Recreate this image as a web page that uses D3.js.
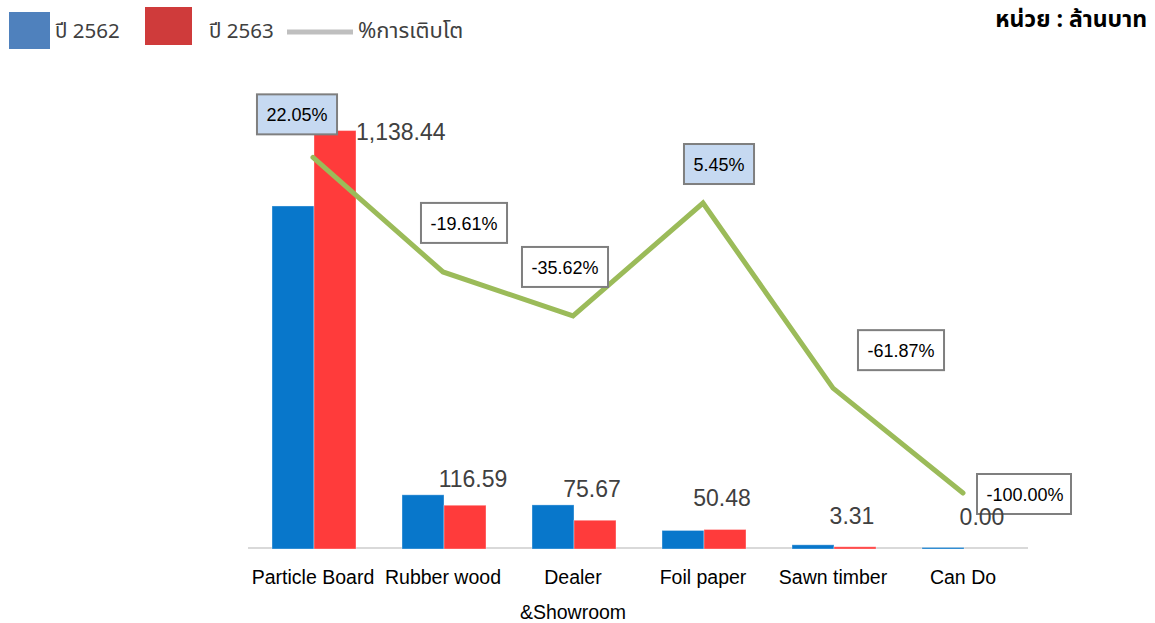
<!DOCTYPE html>
<html>
<head>
<meta charset="utf-8">
<script src="https://cdn.jsdelivr.net/npm/d3@7"></script>
<style>
  html, body { margin: 0; padding: 0; background: #ffffff; }
  svg { display: block; }
</style>
</head>
<body>
<svg id="chart" width="1155" height="623"></svg>
<script>
// Sales by product group (million baht), two years plus growth rate
const categories = ["Particle Board", "Rubber wood", "Dealer\n&Showroom", "Foil paper", "Sawn timber", "Can Do"];
const seriesNames = ["ปี 2562", "ปี 2563"];
const sales2562 = [932.76, 145.03, 117.54, 47.87, 8.68, 1.5];
const sales2563 = [1138.44, 116.59, 75.67, 50.48, 3.31, 0.00];
const growthPct = [22.05, -19.61, -35.62, 5.45, -61.87, -100.00];
const growthLabelName = "%การเติบโต";
const unitLabel = "หน่วย : ล้านบาท";

// label placement tweaks (dx, dy in px) relative to their anchor points
const growthLabelNudge = [[-16, -43], [21, -49], [-8, -49], [16, -39], [68, -38], [61, 1]];
const highlightedGrowth = [true, false, false, true, false, false];

const plot = { left: 248, right: 1028, top: 108, bottom: 548 };
const latin = "'Liberation Sans', Arial, sans-serif";
const thai = "'Noto Sans Thai', 'Loma', 'Tahoma', 'DejaVu Sans', 'Noto Sans', sans-serif";

const barColors = ["#0877CB", "#FF3B3B"];
const legendColors = ["#4F81BD", "#CF3B3B"];
const lineColor = "#9BBB59";

const svg = d3.select("#chart");

const x0 = d3.scaleBand().domain(categories)
  .range([plot.left + 1, plot.right + 1]).paddingInner(0.354).paddingOuter(0.177);
const x1 = d3.scaleBand().domain(seriesNames).range([0, x0.bandwidth()]);
const y = d3.scaleLinear().domain([0, 1200]).range([plot.bottom, plot.top]);
const y2 = d3.scaleLinear().domain([-120, 40]).range([plot.bottom, plot.top]);
const xc = d3.scalePoint().domain(categories).range([plot.left, plot.right]).padding(0.5);

const rows = categories.map((c, i) => ({ cat: c, vals: [sales2562[i], sales2563[i]], g: growthPct[i], i }));
const fmtPct = v => v.toFixed(2) + "%";

// baseline
svg.append("line")
  .attr("x1", plot.left).attr("x2", plot.right)
  .attr("y1", plot.bottom).attr("y2", plot.bottom)
  .attr("stroke", "#D9D9D9").attr("stroke-width", 2);

// grouped bars
const groups = svg.append("g").selectAll("g").data(rows).join("g")
  .attr("transform", d => `translate(${x0(d.cat)},0)`);
groups.selectAll("rect")
  .data(d => d.vals.map((v, k) => ({ v, k })).filter(d => d.v > 0))
  .join("rect")
  .attr("x", d => x1(seriesNames[d.k]))
  .attr("width", x1.bandwidth())
  .attr("y", d => y(d.v))
  .attr("height", d => plot.bottom + 1 - y(d.v))
  .attr("fill", d => barColors[d.k])
  .attr("stroke", "#ffffff").attr("stroke-opacity", 0.35).attr("stroke-width", 1);

// growth line on the secondary scale
const line = d3.line().x(d => xc(d.cat)).y(d => y2(d.g));
svg.append("path").datum(rows)
  .attr("d", line)
  .attr("fill", "none").attr("stroke", lineColor)
  .attr("stroke-width", 5).attr("stroke-linejoin", "miter").attr("stroke-linecap", "round");

// growth labels in boxes
const defs = svg.append("defs");
const growthLayer = svg.append("g").attr("font-family", latin).attr("font-size", 18);
rows.forEach(d => {
  const [dx, dy] = growthLabelNudge[d.i];
  const cx = xc(d.cat) + dx, cy = y2(d.g) + dy;
  const g = growthLayer.append("g");
  const rect = g.append("rect");
  const t = g.append("text")
    .attr("dominant-baseline", "central").attr("fill", "#000")
    .text(fmtPct(d.g));
  const tw = t.node().getComputedTextLength();
  const bw = Math.min(tw + 19, 94), bh = 40;
  t.attr("x", cx - bw / 2 + 9.5).attr("y", cy + 1);
  rect.attr("x", cx - bw / 2).attr("y", cy - bh / 2)
    .attr("width", bw).attr("height", bh)
    .attr("fill", highlightedGrowth[d.i] ? "#C6D9F1" : "#ffffff")
    .attr("stroke", "#7F7F7F").attr("stroke-width", 2);
  const cid = "clip" + d.i;
  defs.append("clipPath").attr("id", cid).append("rect")
    .attr("x", cx - bw / 2).attr("y", cy - bh / 2).attr("width", bw - 3).attr("height", bh);
  t.attr("clip-path", `url(#${cid})`);
});

// value labels for the 2563 bars
const valueLayer = svg.append("g")
  .attr("font-family", latin).attr("font-size", 23).attr("fill", "#404040");
rows.forEach(d => {
  const barLeft = x0(d.cat) + x1(seriesNames[1]);
  const barRight = barLeft + x1.bandwidth();
  const top = y(d.vals[1]);
  const t = valueLayer.append("text")
    .attr("dominant-baseline", "central")
    .text(d3.format(",.2f")(d.vals[1]));
  if (d.i === 0) {
    // tallest bar: label sits beside the bar top
    t.attr("x", barRight).attr("y", top + 1).attr("text-anchor", "start");
  } else if (d.i === 1) {
    t.attr("x", (barLeft + barRight) / 2 + 8).attr("y", top - 26).attr("text-anchor", "middle");
  } else {
    t.attr("x", (barLeft + barRight) / 2 - 3).attr("y", top - 31).attr("text-anchor", "middle");
  }
});

// category labels
const catLayer = svg.append("g").attr("font-family", latin).attr("font-size", 19.5).attr("fill", "#000");
rows.forEach(d => {
  const lines = d.cat.split("\n");
  lines.forEach((s, j) => {
    catLayer.append("text")
      .attr("x", xc(d.cat)).attr("y", 584 + j * 35)
      .attr("text-anchor", "middle").text(s);
  });
});

// legend
const legend = svg.append("g").attr("font-family", thai).attr("font-size", 20.5).attr("fill", "#404040");
legend.append("rect").attr("x", 9).attr("y", 12).attr("width", 41).attr("height", 37).attr("fill", legendColors[0]);
legend.append("text").attr("x", 55).attr("y", 31).attr("dominant-baseline", "central").text(seriesNames[0]);
legend.append("rect").attr("x", 145).attr("y", 7).attr("width", 47).attr("height", 38).attr("fill", legendColors[1]);
legend.append("text").attr("x", 209).attr("y", 31).attr("dominant-baseline", "central").text(seriesNames[1]);
legend.append("line").attr("x1", 287).attr("x2", 353).attr("y1", 32).attr("y2", 32)
  .attr("stroke", "#BFBFBF").attr("stroke-width", 5);
legend.append("text").attr("x", 358).attr("y", 31).attr("dominant-baseline", "central")
  .attr("font-size", 22).text(growthLabelName);

// unit note
svg.append("text")
  .attr("x", 1147).attr("y", 20).attr("text-anchor", "end").attr("dominant-baseline", "central")
  .attr("font-family", thai).attr("font-size", 23).attr("font-weight", "bold").attr("fill", "#000")
  .text(unitLabel);
</script>
</body>
</html>
